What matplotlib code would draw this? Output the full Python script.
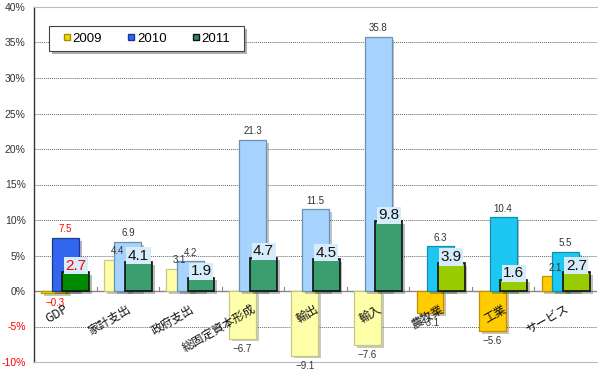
import matplotlib
matplotlib.use("Agg")
import matplotlib.pyplot as plt
import matplotlib.patheffects as pe
from matplotlib.patches import Rectangle
from matplotlib.lines import Line2D
import numpy as np

plt.rcParams['font.family'] = ['Noto Sans CJK JP', 'DejaVu Sans']

categories = ["GDP", "家計支出", "政府支出", "総固定資本形成", "輸出", "輸入", "農牧業", "工業", "サービス"]
v2009 = [-0.3, 4.4, 3.1, -6.7, -9.1, -7.6, -3.1, -5.6, 2.1]
v2010 = [7.5, 6.9, 4.2, 21.3, 11.5, 35.8, 6.3, 10.4, 5.5]
v2011 = [2.7, 4.1, 1.9, 4.7, 4.5, 9.8, 3.9, 1.6, 2.7]
yticks = [-10, -5, 0, 5, 10, 15, 20, 25, 30, 35, 40]
series_names = ["2009", "2010", "2011"]

NUM = ["Liberation Sans", "DejaVu Sans"]

# styles per category group: 0 = GDP, 1 = demand/trade, 2 = sectors
group = [0, 1, 1, 1, 1, 1, 2, 2, 2]
fill = {
    "2009": ["#F0DC00", "#FFFFAA", "#FFCC00"],
    "2010": ["#3366EE", "#A6D4FF", "#1CC8F2"],
    "2011": ["#008A00", "#3A9E6E", "#99CC00"],
}
edge = {
    "2009": ["#B0A000", "#C8C880", "#C09000"],
    "2010": ["#1A3A90", "#6E90B0", "#1090B0"],
    "2011": ["#111111", "#111111", "#111111"],
}

fig = plt.figure(figsize=(5.98, 3.70), dpi=100)
ax = fig.add_axes([34 / 598, 8 / 370, 563 / 598, 355 / 370])

x = np.arange(len(categories))
w = 0.43
off = 0.17
shadow = [pe.SimplePatchShadow(offset=(2, -2), alpha=0.3), pe.Normal()]

for name, vals, dx in zip(series_names, [v2009, v2010, v2011], [-off, 0, off]):
    cols = [fill[name][g] for g in group]
    ecs = [edge[name][g] for g in group]
    lw = 1.2 if name == "2011" else 0.9
    bars = ax.bar(x + dx, vals, width=w, color=cols, edgecolor=ecs, linewidth=lw,
                  zorder=3 + series_names.index(name))
    for b in bars:
        b.set_path_effects(shadow)

# value labels
for i in range(len(categories)):
    red = (i == 0)
    c_small = "red" if red else "#333333"
    for vals, dx in [(v2009, -off), (v2010, 0)]:
        v = vals[i]
        if v >= 0:
            ax.text(x[i] + dx, v + 0.5, f"{v:.1f}", ha="center", va="bottom",
                    fontsize=7, color=c_small, family=NUM, zorder=10)
        else:
            ax.text(x[i] + dx, v - 0.7, f"{v:.1f}".replace("-", "−"), ha="center", va="top",
                    fontsize=7, color=c_small, family=NUM, zorder=10)
    v = v2011[i]
    ax.text(x[i] + off, v - 0.1, f"{v:.1f}", ha="center", va="bottom",
            fontsize=11, color="red" if red else "#111111", family=NUM, zorder=10,
            bbox=dict(boxstyle="square,pad=0.1", fc="#D6ECFA", ec="none"))

# category labels
for i, c in enumerate(categories):
    ax.text(x[i] - 0.02, -1.6, c, rotation=30, rotation_mode="anchor", ha="right", va="top",
            fontsize=8.5, color="#111111", zorder=12)

ax.set_xlim(-0.5, len(categories) - 0.5)
ax.set_ylim(-10, 40)
ax.set_yticks(yticks)
ax.set_yticklabels([f"{t}%" for t in yticks], fontsize=7.5, family=NUM)
for lbl, t in zip(ax.get_yticklabels(), yticks):
    lbl.set_color("red" if t < 0 else "#333333")
ax.tick_params(axis="y", length=0, pad=6)
ax.set_xticks([])

for t in yticks:
    if t not in (0, -10, 40):
        ax.axhline(t, color="#666666", linestyle=(0, (1, 1)), linewidth=0.7, zorder=1)
ax.axhline(0, color="#888888", linewidth=1.0, zorder=2)
for b in np.arange(0.5, len(categories) - 0.5, 1.0):
    ax.plot([b, b], [0, 0.5], color="#888888", linewidth=0.8, zorder=2)

ax.spines["right"].set_visible(False)
ax.spines["top"].set_color("#BBBBBB")
ax.spines["bottom"].set_color("#BBBBBB")
ax.spines["left"].set_color("#333333")
ax.spines["left"].set_linewidth(1.0)

# legend box
lx, ly, lw_, lh = 0.0266, 0.876, 0.3464, 0.0704
box = Rectangle((lx, ly), lw_, lh, transform=ax.transAxes, facecolor="white",
                edgecolor="#444444", linewidth=0.8, zorder=19)
box.set_path_effects([pe.SimplePatchShadow(offset=(2, -2), alpha=0.45), pe.Normal()])
ax.add_patch(box)

handles = [
    Line2D([], [], marker="s", linestyle="none", markersize=4.5, markerfacecolor="#F0DC00", markeredgecolor="#A09000"),
    Line2D([], [], marker="s", linestyle="none", markersize=4.5, markerfacecolor="#3366EE", markeredgecolor="#1A3A90"),
    Line2D([], [], marker="s", linestyle="none", markersize=4.5, markerfacecolor="#2E8A5E", markeredgecolor="#111111"),
]
leg = ax.legend(handles, series_names, loc="center", bbox_to_anchor=(lx + lw_ / 2, ly + lh / 2), ncol=3,
                frameon=False, handlelength=0.6, handletextpad=0.15, columnspacing=1.9,
                borderpad=0, borderaxespad=0, prop={"family": NUM, "size": 9.5})
leg.set_zorder(20)

fig.savefig("out.png", dpi=100)
